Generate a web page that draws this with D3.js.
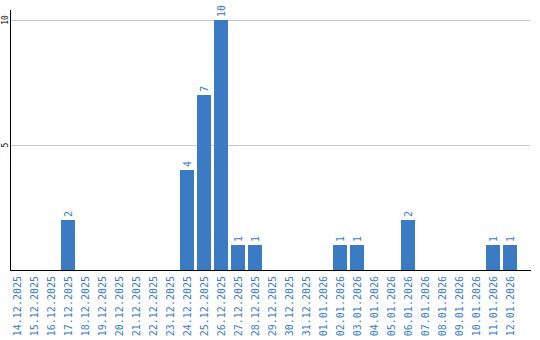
<!DOCTYPE html>
<html>
<head>
<meta charset="utf-8">
<script src="https://cdn.jsdelivr.net/npm/d3@7"></script>
<style>
  body { margin: 0; background: #fff; }
  text { font-family: "DejaVu Sans Mono", monospace; }
</style>
</head>
<body>
<svg id="chart" width="540" height="340"></svg>
<script>
// dates 14.12.2025 .. 12.01.2026
var dates = ["14.12.2025","15.12.2025","16.12.2025","17.12.2025","18.12.2025","19.12.2025",
  "20.12.2025","21.12.2025","22.12.2025","23.12.2025","24.12.2025","25.12.2025","26.12.2025",
  "27.12.2025","28.12.2025","29.12.2025","30.12.2025","31.12.2025","01.01.2026","02.01.2026",
  "03.01.2026","04.01.2026","05.01.2026","06.01.2026","07.01.2026","08.01.2026","09.01.2026",
  "10.01.2026","11.01.2026","12.01.2026"];
var counts = [0,0,0,2,0,0,0,0,0,0,4,7,10,1,1,0,0,0,0,1,1,0,0,2,0,0,0,0,1,1];
var yTicks = [5, 10];

var blue = "#3a7bc4";
var svg = d3.select("#chart");

var x = d3.scaleBand().domain(dates).range([10, 517]).paddingInner(3/17).paddingOuter(0);
var y = d3.scaleLinear().domain([0, 10]).range([270, 20]);

// grid
svg.selectAll(".grid").data(yTicks).enter().append("line")
  .attr("x1", 10).attr("x2", 530)
  .attr("y1", d => y(d) + 0.5).attr("y2", d => y(d) + 0.5)
  .attr("stroke", "#c8c8c8").attr("stroke-width", 1);

// bars
svg.selectAll(".bar").data(dates).enter().append("rect")
  .attr("x", d => x(d))
  .attr("width", x.bandwidth())
  .attr("y", (d, i) => y(counts[i]))
  .attr("height", (d, i) => y(0) - y(counts[i]))
  .attr("fill", blue);

// value labels
svg.selectAll(".val").data(dates.filter((d, i) => counts[i] > 0)).enter().append("text")
  .attr("transform", d => "translate(" + (x(d) + x.bandwidth() / 2) + "," + (y(counts[dates.indexOf(d)]) - 3) + ") rotate(-90)")
  .attr("dy", "0.35em")
  .attr("font-size", 10)
  .attr("fill", blue)
  .text(d => counts[dates.indexOf(d)]);

// axes lines
svg.append("line").attr("x1", 10.5).attr("x2", 10.5).attr("y1", 10).attr("y2", 270)
  .attr("stroke", "#000");
svg.append("line").attr("x1", 10).attr("x2", 531).attr("y1", 270.5).attr("y2", 270.5)
  .attr("stroke", "#000");

// y tick labels
svg.selectAll(".ytick").data(yTicks).enter().append("text")
  .attr("transform", d => "translate(5," + y(d) + ") rotate(-90)")
  .attr("text-anchor", "middle")
  .attr("dy", "0.35em")
  .attr("font-size", 8)
  .attr("fill", "#000")
  .text(d => d);

// x labels
svg.selectAll(".xlab").data(dates).enter().append("text")
  .attr("transform", d => "translate(" + (x(d) + x.bandwidth() / 2) + ",276) rotate(-90)")
  .attr("text-anchor", "end")
  .attr("dy", "0.35em")
  .attr("font-size", 10)
  .attr("fill", blue)
  .text(d => d);
</script>
</body>
</html>
